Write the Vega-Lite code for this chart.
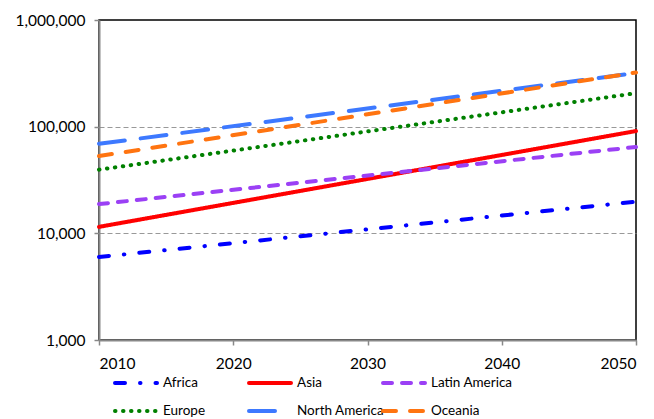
{
 "$schema": "https://vega.github.io/schema/vega-lite/v6.json",
 "width": 537, "height": 320,
 "autosize": {"type": "none"},
 "padding": {"left": 99, "top": 20, "right": 18, "bottom": 79},
 "background": "white",
 "config": {"view": {"stroke": "black", "strokeWidth": 1.5}, "font": "Lato"},
 "data": {"values": [
  {"year": 2010, "region": "Africa", "value": 6000},
  {"year": 2050, "region": "Africa", "value": 19800},
  {"year": 2010, "region": "Asia", "value": 11500},
  {"year": 2050, "region": "Asia", "value": 91000},
  {"year": 2010, "region": "Latin America", "value": 18800},
  {"year": 2050, "region": "Latin America", "value": 64500},
  {"year": 2010, "region": "Europe", "value": 39500},
  {"year": 2050, "region": "Europe", "value": 206000},
  {"year": 2010, "region": "North America", "value": 69000},
  {"year": 2050, "region": "North America", "value": 318000},
  {"year": 2010, "region": "Oceania", "value": 53000},
  {"year": 2050, "region": "Oceania", "value": 322000}
 ]},
 "mark": {"type": "line", "strokeCap": "round", "strokeWidth": 4},
 "encoding": {
  "x": {"field": "year", "type": "quantitative",
   "scale": {"domain": [2010, 2050], "nice": false, "zero": false},
   "axis": {"values": [2010, 2020, 2030, 2040, 2050], "format": "d", "title": null, "grid": false,
    "domainColor": "#888888", "domainWidth": 2, "tickColor": "#888888", "tickWidth": 1.5, "tickSize": 5,
    "labelFontSize": 15.5, "labelColor": "#000000", "labelPadding": 11, "labelFont": "Lato"}},
  "y": {"field": "value", "type": "quantitative",
   "scale": {"type": "log", "domain": [1000, 1000000], "nice": false},
   "axis": {"values": [1000, 10000, 100000, 1000000], "format": ",", "title": null,
    "gridColor": "#999999", "gridDash": [5, 3], "gridWidth": 1.2,
    "gridOpacity": {"condition": {"test": "datum.value == 1000 || datum.value == 1000000", "value": 0}, "value": 1},
    "domainColor": "#888888", "domainWidth": 2, "tickColor": "#888888", "tickWidth": 1.5, "tickSize": 5,
    "labelFontSize": 15.5, "labelColor": "#000000", "labelPadding": 9, "labelFont": "Lato"}},
  "color": {"field": "region", "type": "nominal",
   "scale": {"domain": ["Africa", "Asia", "Latin America", "Europe", "North America", "Oceania"],
    "range": ["#0000FF", "#FF0000", "#9B40F5", "#008000", "#3D79FF", "#FF7410"]},
   "legend": {"orient": "none", "legendX": 28, "legendY": 354, "columns": 3, "direction": "horizontal",
    "symbolType": "M-3,0H3", "symbolSize": 196, "symbolStrokeWidth": 4, "symbolFillColor": "transparent", "gridAlign": "all",
    "columnPadding": -10, "rowPadding": 11, "labelFontSize": 13.5, "labelColor": "#000000", "labelFont": "Lato",
    "labelOffset": 18, "title": null,
    "encode": {"symbols": {"update": {"strokeCap": {"value": "round"}, "fill": {"value": "transparent"}}}}}},
  "strokeDash": {"field": "region", "type": "nominal",
   "scale": {"domain": ["Africa", "Asia", "Latin America", "Europe", "North America", "Oceania"],
    "range": [[10, 15, 0.5, 15], [1, 0], [9, 10], [0.5, 7.5], [26, 16], [13, 14]]},
   "legend": {"orient": "none", "legendX": 28, "legendY": 354, "columns": 3, "direction": "horizontal",
    "symbolType": "M-3,0H3", "symbolSize": 196, "symbolStrokeWidth": 4, "symbolFillColor": "transparent", "gridAlign": "all",
    "columnPadding": -10, "rowPadding": 11, "labelFontSize": 13.5, "labelColor": "#000000", "labelFont": "Lato",
    "labelOffset": 18, "title": null,
    "encode": {"symbols": {"update": {"strokeCap": {"value": "round"}, "fill": {"value": "transparent"}}}}}}
 }
}
